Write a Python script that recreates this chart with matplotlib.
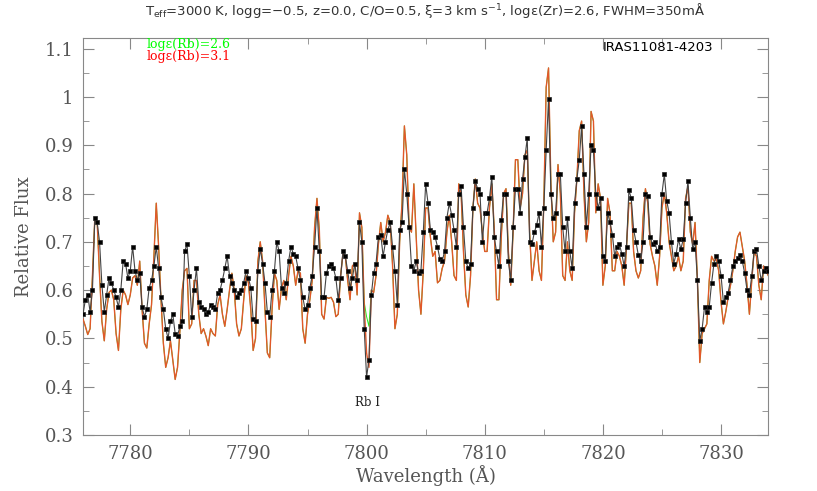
#------------------------------------------------------------------------------------------------------------------
#   Rb I 7800 region: observed spectrum vs synthetic spectra
#------------------------------------------------------------------------------------------------------------------

import numpy as np
import matplotlib
matplotlib.use('Agg')
import matplotlib.pyplot as plt
from matplotlib.ticker import MultipleLocator, FormatStrFormatter

#------------------------------------------------------------------------------------------------------------------
#   Data (0.2 A sampling)
#------------------------------------------------------------------------------------------------------------------
wave_start = 7776.0
wave_step = 0.2

obs_flux = [
    0.55, 0.58, 0.59, 0.555, 0.60, 0.75, 0.74, 0.70, 0.61, 0.555,
    0.59, 0.625, 0.615, 0.60, 0.585, 0.565, 0.60, 0.66, 0.655, 0.625,
    0.64, 0.69, 0.64, 0.62, 0.635, 0.565, 0.545, 0.56, 0.605, 0.62,
    0.65, 0.69, 0.645, 0.585, 0.56, 0.52, 0.50, 0.535, 0.55, 0.51,
    0.505, 0.525, 0.535, 0.68, 0.695, 0.63, 0.545, 0.60, 0.645, 0.575,
    0.565, 0.56, 0.55, 0.555, 0.57, 0.565, 0.56, 0.595, 0.60, 0.62,
    0.645, 0.67, 0.63, 0.615, 0.60, 0.585, 0.595, 0.60, 0.615, 0.64,
    0.625, 0.605, 0.54, 0.535, 0.64,
    0.685, 0.655, 0.615, 0.555, 0.545, 0.60, 0.64, 0.70, 0.68, 0.605,
    0.595, 0.615, 0.66, 0.69, 0.675, 0.67, 0.645, 0.62, 0.585, 0.56,
    0.57, 0.605, 0.63, 0.69, 0.77, 0.68, 0.585, 0.585, 0.635, 0.65,
    0.655, 0.645, 0.625, 0.58, 0.625, 0.68, 0.67, 0.64, 0.605, 0.625,
    0.655, 0.62, 0.74, 0.70, 0.52, 0.42, 0.455, 0.59, 0.635, 0.655,
    0.71, 0.715, 0.67, 0.70, 0.725, 0.74, 0.69, 0.64, 0.57, 0.725,
    0.74, 0.85, 0.80, 0.73, 0.65, 0.64, 0.66, 0.635, 0.64, 0.72,
    0.82, 0.78, 0.725, 0.72,
    0.71, 0.69, 0.665, 0.66, 0.68, 0.75, 0.78, 0.755, 0.725, 0.69,
    0.80, 0.815, 0.73, 0.66, 0.645, 0.655, 0.77, 0.825, 0.81, 0.80,
    0.70, 0.76, 0.76, 0.79, 0.835, 0.71, 0.68, 0.65, 0.745, 0.80,
    0.80, 0.66, 0.62, 0.73, 0.81, 0.81, 0.76, 0.83, 0.875, 0.915,
    0.70, 0.695, 0.72, 0.735, 0.76, 0.69, 0.77, 0.89, 0.995, 0.80,
    0.75, 0.76, 0.84, 0.84, 0.73, 0.68, 0.75, 0.68, 0.645, 0.78,
    0.83, 0.87, 0.94, 0.84, 0.73, 0.80, 0.90, 0.89, 0.80, 0.77,
    0.79, 0.67, 0.66,
    0.76, 0.74, 0.715, 0.67, 0.69, 0.695, 0.675, 0.65, 0.69, 0.807,
    0.79, 0.725, 0.70, 0.672, 0.66, 0.70, 0.80, 0.795, 0.71, 0.695,
    0.70, 0.68, 0.69, 0.80, 0.84, 0.785, 0.76, 0.70, 0.655, 0.675,
    0.705, 0.685, 0.705, 0.78, 0.825, 0.75, 0.685, 0.70, 0.62, 0.495,
    0.52, 0.565, 0.555, 0.565, 0.615, 0.655, 0.67, 0.66, 0.63, 0.575,
    0.585, 0.595, 0.62, 0.65, 0.66, 0.666, 0.672, 0.66, 0.635, 0.60,
    0.59, 0.63, 0.68, 0.685, 0.65, 0.62, 0.64, 0.645, 0.64,
]

# synthetic spectrum, log eps(Rb) = 3.1
model_flux = [
    0.54, 0.525, 0.508, 0.52, 0.63, 0.75, 0.74, 0.63, 0.535, 0.495,
    0.56, 0.595, 0.60, 0.58, 0.51, 0.475, 0.56, 0.60, 0.59, 0.57,
    0.59, 0.625, 0.63, 0.61, 0.66, 0.56, 0.49, 0.48, 0.53, 0.57,
    0.67, 0.78, 0.69, 0.58, 0.49, 0.44, 0.46, 0.495, 0.455, 0.415,
    0.44, 0.515, 0.60, 0.64, 0.645, 0.52, 0.53, 0.62, 0.62, 0.55,
    0.51, 0.52, 0.505, 0.485, 0.52, 0.51, 0.505, 0.57, 0.59, 0.55,
    0.525, 0.56, 0.60, 0.635, 0.60, 0.53, 0.505, 0.52, 0.58, 0.63,
    0.615, 0.56, 0.475, 0.50, 0.66,
    0.70, 0.66, 0.56, 0.47, 0.46, 0.56, 0.635, 0.62, 0.56, 0.605,
    0.62, 0.58, 0.63, 0.67, 0.65, 0.61, 0.64, 0.635, 0.52, 0.49,
    0.55, 0.58, 0.62, 0.73, 0.79, 0.725, 0.55, 0.54, 0.585, 0.583,
    0.585, 0.575, 0.545, 0.55, 0.63, 0.675, 0.67, 0.62, 0.58, 0.65,
    0.655, 0.59, 0.76, 0.73, 0.57, 0.47, 0.44, 0.60, 0.595, 0.63,
    0.695, 0.74, 0.70, 0.72, 0.755, 0.74, 0.65, 0.52, 0.55, 0.70,
    0.78, 0.94, 0.88, 0.73, 0.72, 0.82, 0.71, 0.60, 0.55, 0.64,
    0.77, 0.77, 0.71, 0.67,
    0.68, 0.615, 0.62, 0.645, 0.66, 0.72, 0.755, 0.70, 0.63, 0.62,
    0.82, 0.80, 0.68, 0.59, 0.565, 0.63, 0.77, 0.83, 0.78, 0.77,
    0.72, 0.68, 0.68, 0.77, 0.82, 0.73, 0.58, 0.58, 0.71, 0.80,
    0.81, 0.68, 0.61, 0.72, 0.87, 0.87, 0.77, 0.80, 0.88, 0.89,
    0.72, 0.62, 0.66, 0.70, 0.64, 0.62, 0.78, 1.02, 1.06, 0.82,
    0.70, 0.72, 0.86, 0.80, 0.63, 0.62, 0.70, 0.64, 0.62, 0.76,
    0.83, 0.93, 0.95, 0.80, 0.70, 0.74, 0.97, 0.95, 0.76, 0.82,
    0.79,
    0.61, 0.65, 0.79, 0.76, 0.64, 0.64, 0.68, 0.67, 0.65, 0.61,
    0.69, 0.78, 0.78, 0.68, 0.64, 0.625, 0.64, 0.75, 0.81, 0.78,
    0.695, 0.67, 0.65, 0.61, 0.67, 0.77, 0.80, 0.76, 0.70, 0.67,
    0.64, 0.65, 0.67, 0.64, 0.66, 0.79, 0.815, 0.72, 0.695, 0.74,
    0.62, 0.45, 0.51, 0.52, 0.53, 0.62, 0.67, 0.66, 0.665, 0.64,
    0.575, 0.53, 0.555, 0.585, 0.61, 0.64, 0.68, 0.71, 0.72, 0.69,
    0.66, 0.61, 0.55, 0.62, 0.68, 0.67, 0.61, 0.58, 0.65, 0.64,
    0.63,
]

# log eps(Rb) = 2.6 only differs from the 3.1 model around the Rb I line
rb_wave = [7799.6, 7799.8, 7800.0, 7800.2, 7800.4, 7800.6]
rb_flux_26 = [0.73, 0.575, 0.545, 0.525, 0.60, 0.595]

obs_flux = np.array(obs_flux)
model_flux = np.array(model_flux)
wave = wave_start + wave_step * np.arange(len(obs_flux))

model_26 = model_flux.copy()
for w, f in zip(rb_wave, rb_flux_26):
    model_26[np.argmin(np.abs(wave - w))] = f

#------------------------------------------------------------------------------------------------------------------
#   Plot
#------------------------------------------------------------------------------------------------------------------
serif = 'DejaVu Serif'
grey = '#555555'

fig = plt.figure(figsize=(8.17, 4.91), dpi=100)
ax = fig.add_axes([0.1016, 0.1141, 0.8388, 0.8085])

ax.plot(wave, model_26, color='#22ee22', lw=0.7, zorder=2)
ax.plot(wave, model_flux, color='#e2582a', lw=1.0, zorder=3)
ax.plot(wave, obs_flux, color='#444444', lw=0.8, marker='s', ms=3.2,
        mfc='black', mec='#222222', mew=0.5, zorder=4)

ax.set_xlim(7776, 7834)
ax.set_ylim(0.3, 1.122)

ax.xaxis.set_major_locator(MultipleLocator(10))
ax.xaxis.set_minor_locator(MultipleLocator(5))
ax.yaxis.set_major_locator(MultipleLocator(0.1))
ax.yaxis.set_minor_locator(MultipleLocator(0.05))
ax.yaxis.set_major_formatter(FormatStrFormatter('%g'))

ax.tick_params(which='both', direction='in', top=True, right=True, color='#888888')
ax.tick_params(which='major', length=8, labelsize=13, labelcolor=grey, pad=7)
ax.tick_params(which='minor', length=4)
for lab in ax.get_xticklabels() + ax.get_yticklabels():
    lab.set_family(serif)
for s in ax.spines.values():
    s.set_color('#888888')

ax.set_xlabel('Wavelength (Å)', family=serif, fontsize=13, color=grey, labelpad=2)
ax.set_ylabel('Relative Flux', family=serif, fontsize=13, color=grey, labelpad=8)

ax.text(7781.4, 1.108, 'logε(Rb)=2.6', color='#00ff00', family=serif, fontsize=9, va='center')
ax.text(7781.4, 1.083, 'logε(Rb)=3.1', color='#ff0000', family=serif, fontsize=9, va='center')
ax.text(7820.0, 1.102, 'IRAS11081-4203', color='black', fontsize=9.5, va='center')
ax.text(7800.1, 0.368, 'Rb I', color='#222222', family=serif, fontsize=8.5, ha='center', va='center')

fig.text(0.5208, 0.979,
         r'T$_{\rm eff}$=3000 K, logg=−0.5, z=0.0, C/O=0.5, ξ=3 km s$^{-1}$, logε(Zr)=2.6, FWHM=350mÅ',
         ha='center', va='center', fontsize=9.5, color='#333333')

fig.savefig('out.png', dpi=100)
